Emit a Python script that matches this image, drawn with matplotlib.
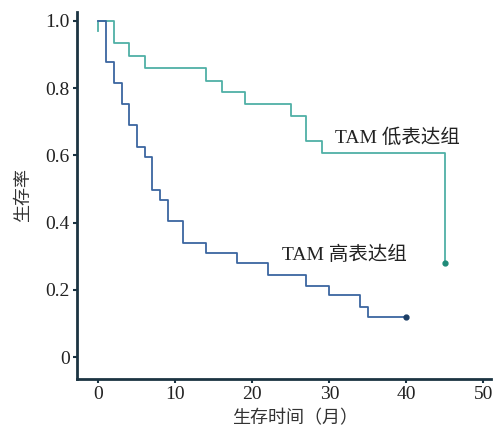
import matplotlib.pyplot as plt

plt.rcParams['font.family'] = ['Liberation Serif', 'Noto Sans CJK SC']

# survival curves (step points: time, survival)
low_t = [0, 0, 2, 4, 6, 14, 16, 19, 25, 27, 29, 45]
low_s = [0.97, 1.0, 0.934, 0.894, 0.86, 0.822, 0.787, 0.752, 0.717, 0.642, 0.608, 0.281]
low_end = 45

high_t = [0, 1, 2, 3, 4, 5, 6, 7, 8, 9, 11, 14, 18, 22, 27, 30, 34, 35]
high_s = [1.0, 0.879, 0.815, 0.752, 0.69, 0.626, 0.596, 0.497, 0.467, 0.406,
          0.34, 0.31, 0.279, 0.244, 0.212, 0.185, 0.15, 0.118]
high_end = 40

x_ticks = [0, 10, 20, 30, 40, 50]
y_ticks = [0, 0.2, 0.4, 0.6, 0.8, 1.0]
y_labels = ['0', '0.2', '0.4', '0.6', '0.8', '1.0']

teal = '#4fb0a6'
blue = '#3b66a0'
dark = '#1c3442'

fig = plt.figure(figsize=(4.96, 4.36), dpi=100)
ax = fig.add_axes([0.155, 0.131, 0.835, 0.842])

ax.step(low_t, low_s, where='post', color=teal, lw=1.3)
ax.plot([low_end], [low_s[-1]], 'o', color='#1f8a78', ms=3.5)

ax.step(high_t + [high_end], high_s + [high_s[-1]], where='post', color=blue, lw=1.3)
ax.plot([high_end], [high_s[-1]], 'o', color='#1d3f66', ms=3.5)

ax.text(30.7, 0.652, 'TAM 低表达组', fontsize=14, va='center', color='#222222')
ax.text(23.9, 0.304, 'TAM 高表达组', fontsize=14, va='center', color='#222222')

ax.set_xlim(-2.8, 51)
ax.set_ylim(-0.065, 1.027)
ax.set_xticks(x_ticks)
ax.set_yticks(y_ticks)
ax.set_yticklabels(y_labels)
ax.tick_params(labelsize=14, length=3, width=1.5, color=dark, labelcolor='#222222', pad=2)

for side in ['top', 'right']:
    ax.spines[side].set_visible(False)
for side in ['left', 'bottom']:
    ax.spines[side].set_color(dark)
    ax.spines[side].set_linewidth(2)

ax.set_xlabel('生存时间（月）', fontsize=13, color='#333333')
ax.xaxis.set_label_coords(0.527, -0.085)
ax.set_ylabel('生存率', fontsize=13, color='#333333', labelpad=10)

fig.savefig('out.png', dpi=100)
